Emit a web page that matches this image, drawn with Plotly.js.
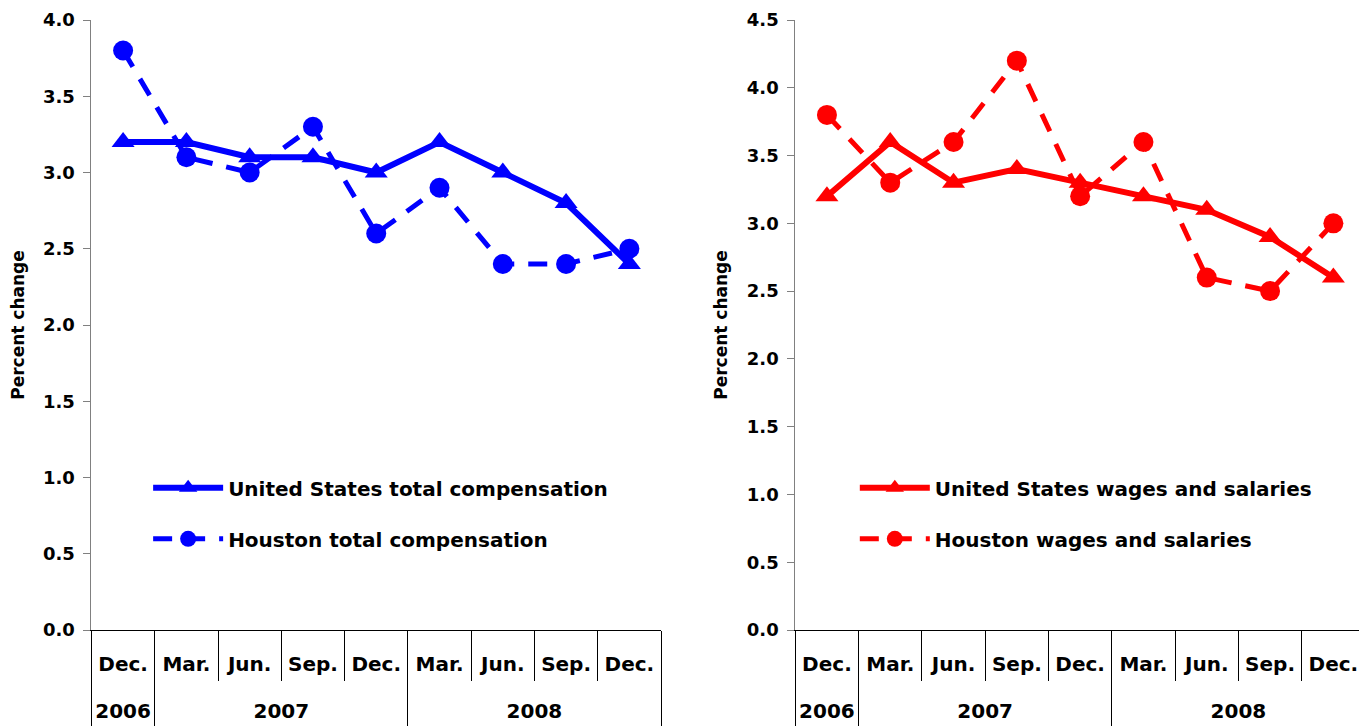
<!DOCTYPE html>
<html><head><meta charset="utf-8">
<script src="https://cdn.plot.ly/plotly-3.0.1.min.js"></script>
<style>html,body{margin:0;padding:0;background:#fff}#chart{width:1359px;height:726px}</style>
</head><body><div id="chart"></div>
<script>
const months = ['Dec.','Mar.','Jun.','Sep.','Dec.','Mar.','Jun.','Sep.','Dec.'];
const years  = ['2006','2007','2007','2007','2007','2008','2008','2008','2008'];
const usTotalComp      = [3.2, 3.2, 3.1, 3.1, 3.0, 3.2, 3.0, 2.8, 2.4];
const houstonTotalComp = [3.8, 3.1, 3.0, 3.3, 2.6, 2.9, 2.4, 2.4, 2.5];
const usWages          = [3.2, 3.6, 3.3, 3.4, 3.3, 3.2, 3.1, 2.9, 2.6];
const houstonWages     = [3.8, 3.3, 3.6, 4.2, 3.2, 3.6, 2.6, 2.5, 3.0];

const FONT = 'DejaVu Sans, Liberation Sans, Arial, sans-serif';
const BLUE = '#0000FF', RED = '#FF0000';
// unique category keys (month + year); labels shown are the month names
const keys = months.map((m, i) => m + ' ' + years[i]);

// boundaries between categories, and year groups
const monthBounds = months.map((_, i) => i - 0.5).concat([months.length - 0.5]);
const yearNames = [], yearIdx = [], yearBounds = [-0.5];
years.forEach((y, i) => {
  if (i > 0 && y !== years[i-1]) yearBounds.push(i - 0.5);
  if (yearNames[yearNames.length-1] !== y) { yearNames.push(y); yearIdx.push([i]); }
  else yearIdx[yearIdx.length-1].push(i);
});
yearBounds.push(years.length - 0.5);
const yearMid = yearIdx.map(a => (a[0] + a[a.length-1]) / 2);

function us(y, color, name, xa, ya, lg){
  return {type:'scatter', mode:'lines+markers', x:keys, y:y, name:name, xaxis:xa, yaxis:ya, legend:lg, legendgroup:name,
    line:{color:color, width:6}, marker:{symbol:'triangle-up', size:20, color:color}, cliponaxis:false};
}
function hou(y, color, name, xa, ya, lg){
  return {type:'scatter', mode:'lines+markers', x:keys, y:y, name:name, xaxis:xa, yaxis:ya, legend:lg, legendgroup:name,
    line:{color:color, width:5, dash:'19px,14px'}, marker:{symbol:'circle', size:20, color:color}, cliponaxis:false};
}
// empty helper traces so the overlay axes (category dividers, year labels) get drawn
function axisHelper(xa, ya){
  return {type:'scatter', mode:'markers', x:[], y:[], xaxis:xa, yaxis:ya, showlegend:false, hoverinfo:'skip'};
}

const data = [
  us(usTotalComp, BLUE, 'United States total compensation', 'x', 'y', 'legend'),
  hou(houstonTotalComp, BLUE, 'Houston total compensation', 'x', 'y', 'legend'),
  us(usWages, RED, 'United States wages and salaries', 'x2', 'y2', 'legend2'),
  hou(houstonWages, RED, 'Houston wages and salaries', 'x2', 'y2', 'legend2'),
  axisHelper('x3','y'), axisHelper('x5','y'), axisHelper('x7','y'),
  axisHelper('x4','y2'), axisHelper('x6','y2'), axisHelper('x8','y2')
];

const tickFont = {family:FONT, size:18, weight:'bold', color:'#000'};
const catFont = {family:FONT, size:20, weight:'bold', color:'#000'};

function xMain(domain, range){
  return {type:'category', domain:domain, range:range, showline:true, linecolor:'#000', linewidth:1,
    tickmode:'array', tickvals:keys, ticktext:months, ticks:'', tickfont:catFont, ticklabelstandoff:16,
    showgrid:false, zeroline:false, fixedrange:true};
}
function xMonthTicks(domain, range, over, anchor){
  return {type:'linear', domain:domain, range:range, overlaying:over, anchor:anchor, side:'bottom',
    tickmode:'array', tickvals:monthBounds, ticks:'outside', ticklen:50, tickcolor:'#000', tickwidth:1,
    showticklabels:false, showline:false, showgrid:false, zeroline:false, fixedrange:true};
}
function xYearLabels(domain, range, over, anchor){
  return {type:'linear', domain:domain, range:range, overlaying:over, anchor:anchor, side:'bottom',
    tickmode:'array', tickvals:yearMid, ticktext:yearNames, ticks:'', tickfont:catFont, ticklabelstandoff:67,
    showline:false, showgrid:false, zeroline:false, fixedrange:true};
}
function xYearTicks(domain, range, over, anchor){
  return {type:'linear', domain:domain, range:range, overlaying:over, anchor:anchor, side:'bottom',
    tickmode:'array', tickvals:yearBounds, ticks:'outside', ticklen:96, tickcolor:'#000', tickwidth:1,
    showticklabels:false, showline:false, showgrid:false, zeroline:false, fixedrange:true};
}
function yax(range, anchor){
  return {range:range, dtick:0.5, tickformat:'.1f', ticks:'outside', ticklen:7, tickcolor:'#808080',
    showline:true, linecolor:'#808080', linewidth:1, showgrid:false, zeroline:false, anchor:anchor,
    tickfont:tickFont, ticklabelstandoff:5, fixedrange:true,
    title:{text:'Percent change', font:{family:FONT, size:17, weight:'bold', color:'#000'}, standoff:14}};
}

const legFont = {family:FONT, size:20, weight:'bold', color:'#000'};
const dL = [0.0673, 0.4864], rL = [-0.5, 8.5];
const dR = [0.5852, 1.0], rR = [-0.5, 8.405];
const layout = {
  width:1359, height:726, paper_bgcolor:'#fff', plot_bgcolor:'#fff',
  margin:{l:0, r:0, t:20, b:96},
  showlegend:true,
  xaxis: xMain(dL, rL),
  xaxis3: xMonthTicks(dL, rL, 'x', 'y'),
  xaxis5: xYearLabels(dL, rL, 'x', 'y'),
  xaxis7: xYearTicks(dL, rL, 'x', 'y'),
  yaxis: yax([0,4], 'x'),
  xaxis2: xMain(dR, rR),
  xaxis4: xMonthTicks(dR, rR, 'x2', 'y2'),
  xaxis6: xYearLabels(dR, rR, 'x2', 'y2'),
  xaxis8: xYearTicks(dR, rR, 'x2', 'y2'),
  yaxis2: yax([0,4.5], 'x2'),
  legend:{x:0.109, y:0.265, xanchor:'left', yanchor:'top', bgcolor:'rgba(0,0,0,0)', font:legFont,
    traceorder:'grouped', tracegroupgap:22, itemwidth:70},
  legend2:{x:0.629, y:0.265, xanchor:'left', yanchor:'top', bgcolor:'rgba(0,0,0,0)', font:legFont,
    traceorder:'grouped', tracegroupgap:22, itemwidth:70}
};

Plotly.newPlot('chart', data, layout, {displayModeBar:false, staticPlot:true});
</script></body></html>
